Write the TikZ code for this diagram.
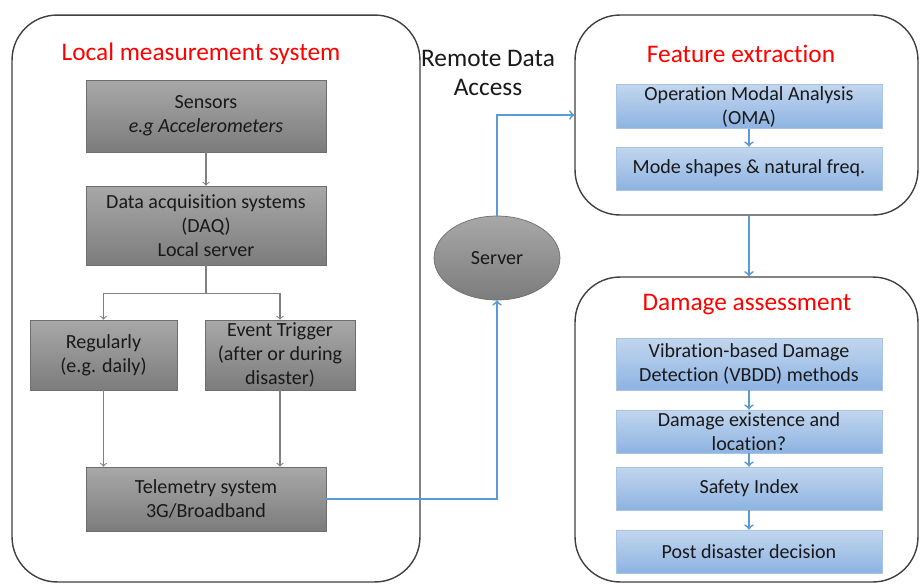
\documentclass[tikz,border=0pt]{standalone}
\usepackage{fontspec}
\setmainfont{Carlito}[Ligatures=NoCommon]
\usepackage{tikz}
\usetikzlibrary{shapes.geometric}
\definecolor{graytop}{HTML}{A8A8A8}
\definecolor{graybot}{HTML}{7C7C7C}
\definecolor{grayline}{HTML}{6E6E6E}
\definecolor{bluetop}{HTML}{C2D6EE}
\definecolor{bluebot}{HTML}{8DB3E2}
\definecolor{blueline}{HTML}{A7C3E6}
\definecolor{arrowblue}{HTML}{5B9BD5}
\definecolor{titlered}{HTML}{FF0000}

\begin{document}
\begin{tikzpicture}[x=0.02cm, y=-0.02cm,
  every node/.style={font=\fontsize{11.4}{13.7}\selectfont, align=center, inner sep=1pt, text=black!90},
  group/.style={draw=black!75, line width=0.8pt, rounded corners=0.9cm},
  title/.style={text=titlered, font=\fontsize{14.4}{17}\selectfont},
  graybox/.style={draw=grayline, top color=graytop, bottom color=graybot, minimum width=4.8cm},
  bluebox/.style={draw=blueline, top color=bluetop, bottom color=bluebot, minimum width=5.32cm, minimum height=0.86cm},
  grayarrow/.style={draw=gray, line width=0.6pt, ->, >=to},
  bluearrow/.style={draw=arrowblue, line width=1pt, ->, >=to}]
  \useasboundingbox (0,0) rectangle (921,586);
  % groups
  \node (lms) [group, minimum width=8.16cm, minimum height=11.34cm] at (216,298.5) {};
  \node (feat) [group, minimum width=6.86cm, minimum height=4cm] at (746.5,115) {};
  \node (dmg) [group, minimum width=6.86cm, minimum height=6.1cm] at (746.5,429.5) {};
  \node (lmstitle) [title] at (201,54) {Local measurement system};
  \node (feattitle) [title] at (741,54) {Feature extraction};
  \node (dmgtitle) [title] at (747,305) {Damage assessment};
  % local measurement system
  \node (sens) [graybox, minimum height=1.44cm] at (206,116) {Sensors\\ \textit{e.g Accelerometers}};
  \node (daq) [graybox, minimum height=1.58cm] at (206,225.5) {Data acquisition systems\\ (DAQ)\\ Local server};
  \node (reg) [graybox, minimum width=2.94cm, minimum height=1.4cm] at (103.5,355) {Regularly\\ (e.g. daily)};
  \node (evt) [graybox, minimum width=3cm, minimum height=1.4cm] at (280,355) {Event Trigger\\ (after or during\\ disaster)};
  \node (tel) [graybox, minimum height=1.28cm] at (206,499) {Telemetry system\\ 3G/Broadband};
  % remote access
  \node (remote) [font=\fontsize{14.4}{17}\selectfont] at (488,73) {Remote Data\\ Access};
  \node (server) [ellipse, draw=grayline, top color=graytop, bottom color=graybot, minimum width=2.52cm, minimum height=1.68cm] at (497,258) {Server};
  % feature extraction
  \node (oma) [bluebox] at (749,106.5) {Operation Modal Analysis\\ (OMA)};
  \node (mode) [bluebox] at (749,168.5) {Mode shapes \& natural freq.};
  % damage assessment
  \node (vbdd) [bluebox, minimum height=1.04cm] at (749,364) {Vibration-based Damage\\ Detection (VBDD) methods};
  \node (exist) [bluebox] at (749,431.5) {Damage existence and\\ location?};
  \node (safe) [bluebox] at (749,488.5) {Safety Index};
  \node (post) [bluebox] at (749,551.5) {Post disaster decision};
  % connectors
  \draw [grayarrow] (sens) -- (daq);
  \draw [draw=gray, line width=0.6pt] (daq.south) -- ++(0,28) coordinate (split);
  \draw [grayarrow] (split) -| (reg);
  \draw [grayarrow] (split) -| (evt);
  \draw [grayarrow] (reg) -- (reg |- tel.north);
  \draw [grayarrow] (evt) -- (evt |- tel.north);
  \draw [bluearrow] (tel) -| (server);
  \draw [bluearrow] (server) |- (feat);
  \draw [bluearrow] (oma) -- (mode);
  \draw [bluearrow] (feat.south -| mode) -- (dmg.north -| mode);
  \draw [bluearrow] (vbdd) -- (exist);
  \draw [bluearrow] (exist) -- (safe);
  \draw [bluearrow] (safe) -- (post);
\end{tikzpicture}
\end{document}
